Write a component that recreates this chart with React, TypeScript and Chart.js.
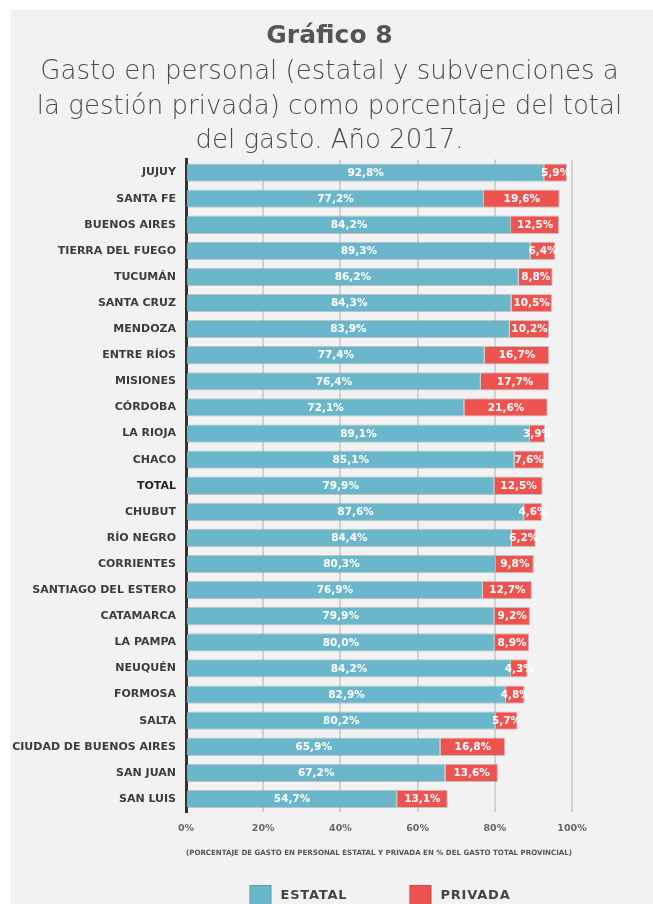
import React, { useEffect, useRef } from "react";
import { Chart, registerables } from "chart.js";

Chart.register(...registerables);

const provinces = [
  "JUJUY", "SANTA FE", "BUENOS AIRES", "TIERRA DEL FUEGO", "TUCUMÁN", "SANTA CRUZ",
  "MENDOZA", "ENTRE RÍOS", "MISIONES", "CÓRDOBA", "LA RIOJA", "CHACO", "TOTAL",
  "CHUBUT", "RÍO NEGRO", "CORRIENTES", "SANTIAGO DEL ESTERO", "CATAMARCA",
  "LA PAMPA", "NEUQUÉN", "FORMOSA", "SALTA", "CIUDAD DE BUENOS AIRES", "SAN JUAN", "SAN LUIS",
];
const estatal = [
  92.8, 77.2, 84.2, 89.3, 86.2, 84.3, 83.9, 77.4, 76.4, 72.1, 89.1, 85.1, 79.9,
  87.6, 84.4, 80.3, 76.9, 79.9, 80.0, 84.2, 82.9, 80.2, 65.9, 67.2, 54.7,
];
const privada = [
  5.9, 19.6, 12.5, 6.4, 8.8, 10.5, 10.2, 16.7, 17.7, 21.6, 3.9, 7.6, 12.5,
  4.6, 6.2, 9.8, 12.7, 9.2, 8.9, 4.3, 4.8, 5.7, 16.8, 13.6, 13.1,
];
const seriesNames = ["ESTATAL", "PRIVADA"];
const seriesColors = ["#6ab7cc", "#ef5350"];
const xMin = 0;
const xMax = 100;
const xStep = 20;
const titleText = "Gráfico 8";
const subtitleLines = [
  "Gasto en personal (estatal y subvenciones a",
  "la gestión privada) como porcentaje del total",
  "del gasto. Año 2017.",
];
const axisTitle =
  "(PORCENTAJE DE GASTO EN PERSONAL ESTATAL Y PRIVADA EN % DEL GASTO TOTAL PROVINCIAL)";

const FONT = '"DejaVu Sans", sans-serif';
const W = 653;
const H = 904;

const fmt = (v: number) => v.toFixed(1).replace(".", ",") + "%";

const panelPlugin = {
  id: "panel",
  beforeDraw(chart: any) {
    const { ctx } = chart;
    ctx.save();
    ctx.fillStyle = "#ffffff";
    ctx.fillRect(0, 0, chart.width, chart.height);
    ctx.fillStyle = "#f2f2f2";
    ctx.fillRect(10, 10, chart.width - 10, chart.height - 10);
    ctx.restore();
  },
};

const valueLabelPlugin = {
  id: "valueLabels",
  afterDatasetsDraw(chart: any) {
    const { ctx } = chart;
    ctx.save();
    ctx.font = `bold 10.5px ${FONT}`;
    ctx.fillStyle = "#ffffff";
    ctx.textAlign = "center";
    ctx.textBaseline = "middle";
    chart.data.datasets.forEach((ds: any, i: number) => {
      const meta = chart.getDatasetMeta(i);
      meta.data.forEach((el: any, j: number) => {
        const p = el.getProps(["x", "y", "base"], true);
        ctx.fillText(fmt(ds.data[j]), (p.x + p.base) / 2, p.y + 0.5);
      });
    });
    ctx.restore();
  },
};

const customLegendPlugin = {
  id: "customLegend",
  afterDraw(chart: any) {
    const { ctx, chartArea } = chart;
    ctx.save();
    ctx.font = `bold 13px ${FONT}`;
    (ctx as any).letterSpacing = "0.8px";
    const box = 22;
    const gapText = 9;
    const gapItems = 62;
    const widths = seriesNames.map((n) => box + gapText + ctx.measureText(n).width);
    const total = widths.reduce((a, b) => a + b, 0) + gapItems * (widths.length - 1);
    let x = (chartArea.left + chartArea.right) / 2 - total / 2 + 1;
    const top = 885;
    seriesNames.forEach((n, i) => {
      ctx.fillStyle = seriesColors[i];
      ctx.fillRect(x, top, box, box);
      ctx.strokeStyle = "rgba(0,0,0,0.15)";
      ctx.lineWidth = 1;
      ctx.strokeRect(x + 0.5, top + 0.5, box - 1, box - 1);
      ctx.fillStyle = "#444444";
      ctx.textAlign = "left";
      ctx.textBaseline = "middle";
      ctx.fillText(n, x + box + gapText, top + 11);
      x += widths[i] + gapItems;
    });
    ctx.restore();
  },
};

export default function App() {
  const canvasRef = useRef<HTMLCanvasElement | null>(null);

  useEffect(() => {
    if (!canvasRef.current) return;
    const chart = new Chart(canvasRef.current, {
      type: "bar",
      data: {
        labels: provinces,
        datasets: [
          {
            label: seriesNames[0],
            data: estatal,
            backgroundColor: seriesColors[0],
            borderColor: "rgba(110,110,110,0.35)",
            borderWidth: 1,
            barPercentage: 0.7,
            categoryPercentage: 1,
          },
          {
            label: seriesNames[1],
            data: privada,
            backgroundColor: seriesColors[1],
            borderColor: "rgba(110,110,110,0.35)",
            borderWidth: 1,
            barPercentage: 0.7,
            categoryPercentage: 1,
          },
        ],
      },
      options: {
        indexAxis: "y",
        responsive: false,
        animation: false,
        devicePixelRatio: 1,
        layout: { padding: { top: 10, left: 6, right: 0, bottom: 0 } },
        plugins: {
          legend: { display: false },
          tooltip: { enabled: false },
          title: {
            display: true,
            text: titleText,
            color: "#555555",
            font: { family: FONT, size: 25, weight: "bold", lineHeight: 1.2 },
            padding: { top: 11, bottom: 4 },
          },
          subtitle: {
            display: true,
            text: subtitleLines,
            color: "#4a4a4a",
            font: { family: FONT, size: 26, weight: "200", lineHeight: "34.5px" },
            padding: { top: 0, bottom: 1 },
          },
        },
        scales: {
          x: {
            stacked: true,
            min: xMin,
            max: xMax,
            ticks: {
              stepSize: xStep,
              callback: (v: any) => v + "%",
              color: "#666666",
              font: { family: FONT, size: 9.5, weight: "bold" },
              padding: 11,
            },
            grid: {
              color: (c: any) => (c.tick && c.tick.value === 0 ? "rgba(0,0,0,0)" : "#d2d2d2"),
              lineWidth: 2,
              drawTicks: false,
            },
            border: { display: false },
            title: {
              display: true,
              text: axisTitle,
              color: "#555555",
              font: { family: FONT, size: 7.3, weight: "bold" },
              padding: { top: 10, bottom: 47 },
            },
            afterFit: (s: any) => {
              s.height = 92;
            },
          },
          y: {
            stacked: true,
            ticks: {
              autoSkip: false,
              color: (c: any) => (provinces[c.index] === "TOTAL" ? "#222222" : "#3c3c3c"),
              font: { family: FONT, size: 11, weight: "bold" },
              padding: 10,
            },
            grid: { display: false, drawTicks: false },
            border: { display: true, color: "#333333", width: 3 },
            afterFit: (s: any) => {
              s.width = 180;
            },
          },
          yRight: {
            type: "linear",
            position: "right",
            display: true,
            ticks: { display: false },
            grid: { display: false, drawTicks: false },
            border: { display: false },
            afterFit: (s: any) => {
              s.width = 81;
            },
          },
        },
      } as any,
      plugins: [panelPlugin, valueLabelPlugin, customLegendPlugin],
    });
    return () => chart.destroy();
  }, []);

  return (
    <div
      style={{
        position: "fixed",
        left: 0,
        top: 0,
        width: W,
        height: H,
        overflow: "hidden",
        background: "#ffffff",
      }}
    >
      <canvas ref={canvasRef} width={W} height={H} style={{ display: "block", width: W, height: H }} />
    </div>
  );
}
